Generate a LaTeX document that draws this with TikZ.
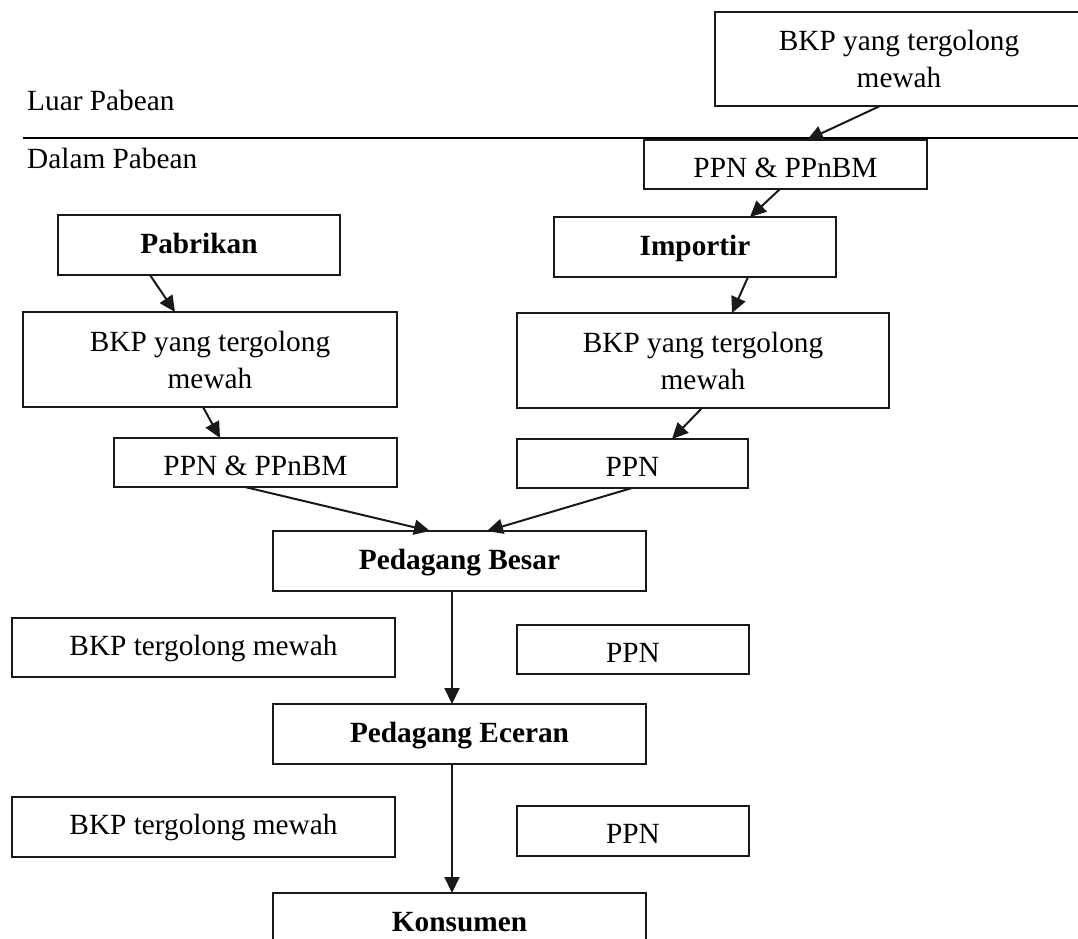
\documentclass[tikz,border=0pt]{standalone}
\usepackage{fontspec}
\setmainfont{Liberation Serif}
\usetikzlibrary{arrows.meta}
\begin{document}
\begin{tikzpicture}[x=1pt,y=-1pt,
  box/.style={draw=black!90, line width=1.5pt, inner sep=0pt, outer sep=0pt, align=center, font=\fontsize{29.3}{37}\selectfont},
  boldbox/.style={box, font=\fontsize{29.3}{37}\selectfont\bfseries, text height=16pt, text depth=0pt},
  ppnbox/.style={box, text height=25pt, text depth=0pt},
  rowbox/.style={box, text height=15pt, text depth=0pt},
  arr/.style={line width=2pt, draw=black!90, -{Triangle[length=16pt,width=15pt]}},
  lbl/.style={anchor=base west, inner sep=0pt, font=\fontsize{29.3}{37}\selectfont}
]
\useasboundingbox (0,0) rectangle (1078,938);

% region labels and border line
\node[lbl] (luar) at (27,110) {Luar Pabean};
\node[lbl] (dalam) at (27,168) {Dalam Pabean};
\coordinate (sepL) at (23,138);
\coordinate (sepR) at (1078,138);
\draw[line width=2pt] (sepL) -- (sepR);

% boxes
\node[box, minimum width=368pt, minimum height=94pt] (topBKP) at (899,59) {BKP yang tergolong\\mewah};
\node[ppnbox, minimum width=283pt, minimum height=49pt] (topPPN) at (785.5,164.5) {PPN \& PPnBM};
\node[boldbox, minimum width=282pt, minimum height=60pt] (pabrikan) at (199,245) {Pabrikan};
\node[boldbox, minimum width=282pt, minimum height=60pt] (importir) at (695,247) {Importir};
\node[box, minimum width=374pt, minimum height=95pt] (leftBKP) at (210,359.5) {BKP yang tergolong\\mewah};
\node[box, minimum width=372pt, minimum height=95pt] (rightBKP) at (703,360.5) {BKP yang tergolong\\mewah};
\node[ppnbox, minimum width=283pt, minimum height=49pt] (leftPPN) at (255.5,462.5) {PPN \& PPnBM};
\node[ppnbox, minimum width=231pt, minimum height=49pt] (rightPPN) at (632.5,463.5) {PPN};
\node[boldbox, minimum width=373pt, minimum height=60pt] (besar) at (459.5,561) {Pedagang Besar};
\node[rowbox, minimum width=383pt, minimum height=59pt] (bkpA) at (203.5,647.5) {BKP tergolong mewah};
\node[ppnbox, minimum width=232pt, minimum height=49pt] (ppnA) at (633,649.5) {PPN};
\node[boldbox, minimum width=373pt, minimum height=60pt] (eceran) at (459.5,734) {Pedagang Eceran};
\node[rowbox, minimum width=383pt, minimum height=60pt] (bkpB) at (203.5,827) {BKP tergolong mewah};
\node[ppnbox, minimum width=232pt, minimum height=50pt] (ppnB) at (633,831) {PPN};
\node[boldbox, minimum width=373pt, minimum height=60pt] (konsumen) at (459.5,923) {Konsumen};

% connectors
\draw[arr] ([xshift=-19pt]topBKP.south) -- ([xshift=21.5pt]topPPN.north);
\draw[arr] ([xshift=-5.5pt]topPPN.south) -- ([xshift=55pt]importir.north);
\draw[arr] ([xshift=-49pt]pabrikan.south) -- ([xshift=-35pt]leftBKP.north);
\draw[arr] ([xshift=53pt]importir.south) -- ([xshift=29pt]rightBKP.north);
\draw[arr] ([xshift=-7pt]leftBKP.south) -- ([xshift=-35.5pt]leftPPN.north);
\draw[arr] ([xshift=-1pt]rightBKP.south) -- ([xshift=39.5pt]rightPPN.north);
\draw[arr] ([xshift=-10.5pt]leftPPN.south) -- ([xshift=-29.5pt]besar.north);
\draw[arr] ([xshift=-0.5pt]rightPPN.south) -- ([xshift=27.5pt]besar.north);
\draw[arr] ([xshift=-7.5pt]besar.south) -- ([xshift=-7.5pt]eceran.north);
\draw[arr] ([xshift=-7.5pt]eceran.south) -- ([xshift=-7.5pt]konsumen.north);
\end{tikzpicture}
\end{document}
